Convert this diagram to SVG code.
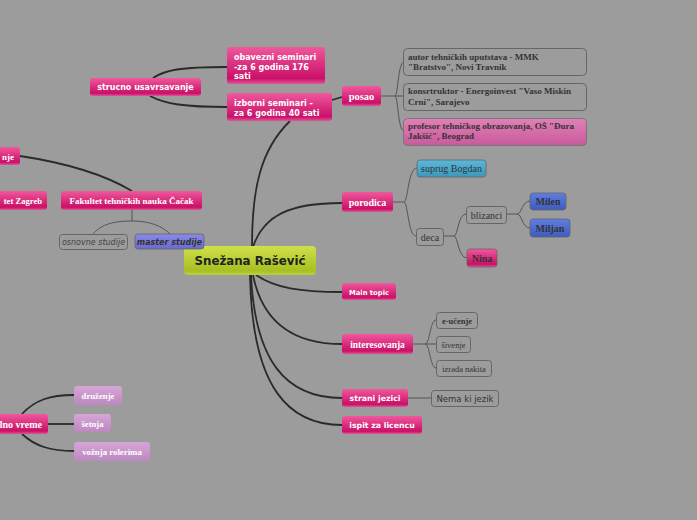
<svg xmlns="http://www.w3.org/2000/svg" width="697" height="520" viewBox="0 0 697 520">
<defs>
<linearGradient id="gPink" x1="0" y1="0" x2="0" y2="1"><stop offset="0" stop-color="#f0589c"/><stop offset="0.85" stop-color="#c91068"/><stop offset="1" stop-color="#e0579a"/></linearGradient>
<linearGradient id="gLime" x1="0" y1="0" x2="0" y2="1"><stop offset="0" stop-color="#d0e04a"/><stop offset="0.85" stop-color="#a8c022"/><stop offset="1" stop-color="#bcd040"/></linearGradient>
<linearGradient id="gBlue" x1="0" y1="0" x2="0" y2="1"><stop offset="0" stop-color="#5f7ee0"/><stop offset="1" stop-color="#3e5cc0"/></linearGradient>
<linearGradient id="gTeal" x1="0" y1="0" x2="0" y2="1"><stop offset="0" stop-color="#5cb8d8"/><stop offset="1" stop-color="#3a98bc"/></linearGradient>
<linearGradient id="gPurple" x1="0" y1="0" x2="0" y2="1"><stop offset="0" stop-color="#8a8ae6"/><stop offset="1" stop-color="#6a6ad0"/></linearGradient>
<linearGradient id="gLilac" x1="0" y1="0" x2="0" y2="1"><stop offset="0" stop-color="#d6a6d6"/><stop offset="1" stop-color="#bc88c0"/></linearGradient>
<linearGradient id="gRose" x1="0" y1="0" x2="0" y2="1"><stop offset="0" stop-color="#e080b6"/><stop offset="1" stop-color="#c85a9c"/></linearGradient>
</defs>
<style>
.pink{fill:url(#gPink);}
.gray{fill:#9c9c9c;stroke:#666;stroke-width:1;}
.sw{font-family:"DejaVu Sans",Verdana,sans-serif;font-weight:bold;fill:#fff;font-size:8px;}
.rw{font-family:"Liberation Serif","Times New Roman",serif;font-weight:bold;fill:#fff;font-size:10px;}
.rd{font-family:"Liberation Serif","Times New Roman",serif;fill:#333;font-size:10px;}
.b{font-weight:bold;}
.main{stroke:#2a2a2a;stroke-width:1.8;fill:none;}
.sub{stroke:#555;stroke-width:1;fill:none;}
</style>
<rect width="697" height="520" fill="#9c9c9c"/>
<g id="connectors">
<path class="main" d="M252,246 C252,190 260,150 290,121"/>
<path class="main" d="M252,250 C262,215 290,203 342,203"/>
<path class="main" d="M256,275 C275,288 300,292 342,292"/>
<path class="main" d="M253,275 C262,320 290,344 342,344"/>
<path class="main" d="M251,275 C255,360 285,398 342,398"/>
<path class="main" d="M250,275 C252,390 290,425 342,425"/>
<path class="main" d="M332,100 L342,97"/>
<path class="main" d="M153,78 C165,70 180,67 227,67"/>
<path class="main" d="M150,96 C165,104 185,107 227,107"/>
<path class="main" d="M20,156 C60,162 100,172 132,191"/>
<path class="main" d="M22,414 C35,400 50,395 74,395"/>
<path class="main" d="M48,424 L74,424"/>
<path class="main" d="M22,434 C35,446 50,451 74,451"/>
<path class="sub" d="M381,96 L395,96 C398,96 398,62 404,62 M395,96 L403,96 M395,96 C398,96 398,131 404,131"/>
<path class="sub" d="M132,210 L132,221 C110,221 100,226 93,234 M132,221 C150,221 162,226 170,234"/>
<path class="sub" d="M393,202 L404,202 C408,202 408,168 417,168 M404,202 C408,202 408,236 416,236"/>
<path class="sub" d="M443,236 L454,236 C458,236 458,214 466,214 M454,236 C458,236 458,258 467,258"/>
<path class="sub" d="M506,214 L517,214 C522,214 522,201 530,201 M517,214 C522,214 522,228 530,228"/>
<path class="sub" d="M413,344 L425,344 C430,344 430,320 436,320 M425,344 L436,344 M425,344 C430,344 430,368 436,368"/>
<path class="sub" d="M408,398 L431,398"/>
</g>
<g id="center"><rect x="184" y="246" width="132" height="29" rx="4" fill="url(#gLime)"/><text x="250" y="265" text-anchor="middle" font-family="DejaVu Sans,Verdana,sans-serif" font-weight="bold" font-size="11.8" fill="#222">Snežana Rašević</text></g>
<g id="strucno"><rect x="90" y="78" width="111" height="18" rx="3" class="pink"/><text x="145.5" y="90" text-anchor="middle" class="sw">strucno usavrsavanje</text></g>
<g id="obavezni"><rect x="227" y="47" width="98" height="37" rx="3" class="pink"/><text class="sw"><tspan x="234" y="59.5">obavezni seminari</tspan><tspan x="234" y="69.5">-za 6 godina 176</tspan><tspan x="234" y="79">sati</tspan></text></g>
<g id="izborni"><rect x="227" y="93" width="105" height="28" rx="3" class="pink"/><text class="sw"><tspan x="234" y="105.5">izborni seminari -</tspan><tspan x="234" y="116">za 6 godina 40 sati</tspan></text></g>
<g id="posao"><rect x="342" y="86" width="39" height="20" rx="3" class="pink"/><text x="361.5" y="99.5" text-anchor="middle" class="rw" style="font-size:10.5px">posao</text></g>
<g id="autor"><rect x="403.5" y="48.5" width="183" height="27" rx="4" class="gray"/><text class="rd b" style="font-size:9px"><tspan x="408" y="60">autor tehničkih uputstava - MMK</tspan><tspan x="408" y="70">"Bratstvo", Novi Travnik</tspan></text></g>
<g id="konstruktor"><rect x="403.5" y="83.5" width="183" height="27" rx="4" class="gray"/><text class="rd b" style="font-size:9px"><tspan x="408" y="94">konsrtruktor - Energoinvest "Vaso Miskin</tspan><tspan x="408" y="105">Crni", Sarajevo</tspan></text></g>
<g id="profesor"><rect x="403.5" y="118.5" width="183" height="27" rx="4" fill="url(#gRose)" stroke="#777" stroke-width="1"/><text class="rd b" style="font-size:9px"><tspan x="408" y="129">profesor tehničkog obrazovanja, OŠ "Đura</tspan><tspan x="408" y="139">Jakšić", Beograd</tspan></text></g>
<g id="porodica"><rect x="342" y="192" width="51" height="20" rx="3" class="pink"/><text x="367.5" y="206" text-anchor="middle" class="rw">porodica</text></g>
<g id="suprug"><rect x="417" y="160" width="69" height="17" rx="3" fill="url(#gTeal)" stroke="#666" stroke-width="0.8"/><text x="451.5" y="172" text-anchor="middle" class="rd">suprug Bogdan</text></g>
<g id="deca"><rect x="416.5" y="228.5" width="27" height="17" rx="3" class="gray"/><text x="430" y="240.5" text-anchor="middle" class="rd">deca</text></g>
<g id="blizanci"><rect x="466.5" y="206.5" width="40" height="17" rx="3" class="gray"/><text x="486.5" y="218.5" text-anchor="middle" class="rd">blizanci</text></g>
<g id="milen"><rect x="530" y="193" width="36" height="17" rx="3" fill="url(#gBlue)" stroke="#666" stroke-width="0.8"/><text x="548" y="205" text-anchor="middle" class="rd b">Milen</text></g>
<g id="miljan"><rect x="530" y="219" width="40" height="18" rx="3" fill="url(#gBlue)" stroke="#666" stroke-width="0.8"/><text x="550" y="232" text-anchor="middle" class="rd b">Miljan</text></g>
<g id="nina"><rect x="467" y="249" width="30" height="18" rx="3" class="pink" stroke="#666" stroke-width="0.8"/><text x="482" y="262" text-anchor="middle" class="rd b">Nina</text></g>
<g id="maintopic"><rect x="342" y="283" width="54" height="17" rx="3" class="pink"/><text x="369" y="294.5" text-anchor="middle" class="sw" style="font-size:6.8px">Main topic</text></g>
<g id="interesovanja"><rect x="342" y="334" width="71" height="20" rx="3" class="pink"/><text x="377.5" y="348" text-anchor="middle" class="rw" style="font-size:9.5px">interesovanja</text></g>
<g id="eucenje"><rect x="436.5" y="312.5" width="41" height="16" rx="3" class="gray"/><text x="457" y="324" text-anchor="middle" class="rd b" style="font-size:8.5px">e-učenje</text></g>
<g id="sivenje"><rect x="436.5" y="336.5" width="34" height="16" rx="3" class="gray"/><text x="453.5" y="348" text-anchor="middle" class="rd" style="font-size:8.5px">šivenje</text></g>
<g id="izrada"><rect x="436.5" y="360.5" width="55" height="16" rx="3" class="gray"/><text x="464" y="372" text-anchor="middle" class="rd" style="font-size:8.5px">izrada nakita</text></g>
<g id="strani"><rect x="342" y="389" width="66" height="18" rx="3" class="pink"/><text x="375" y="401" text-anchor="middle" class="sw" style="font-size:7.8px">strani jezici</text></g>
<g id="nema"><rect x="431.5" y="390.5" width="67" height="16" rx="3" class="gray"/><text x="465" y="402" text-anchor="middle" font-family="DejaVu Sans,Verdana,sans-serif" font-size="8.5" fill="#333">Nema ki jezik</text></g>
<g id="ispit"><rect x="342" y="416" width="80" height="18" rx="3" class="pink"/><text x="382" y="428" text-anchor="middle" class="sw" style="font-size:7.8px">ispit za licencu</text></g>
<g id="obrazovanje"><rect x="-40" y="147" width="60" height="18" rx="3" class="pink"/><text x="14" y="159.5" text-anchor="end" class="rw" style="font-size:9px">nje</text></g>
<g id="zagreb"><rect x="-60" y="191" width="107" height="19" rx="3" class="pink"/><text x="42" y="204" text-anchor="end" class="rw" style="font-size:8.6px">tet Zagreb</text></g>
<g id="cacak"><rect x="61" y="191" width="141" height="19" rx="3" class="pink"/><text x="131.5" y="204" text-anchor="middle" class="rw" style="font-size:9px">Fakultet tehničkih nauka  Čačak</text></g>
<g id="osnovne"><rect x="59.5" y="234.5" width="68" height="15" rx="3" class="gray"/><text x="93.5" y="245" text-anchor="middle" font-family="DejaVu Sans,Verdana,sans-serif" font-style="italic" font-size="8" fill="#444">osnovne studije</text></g>
<g id="master"><rect x="135" y="234" width="69" height="15" rx="3" fill="url(#gPurple)" stroke="#666" stroke-width="0.8"/><text x="169.5" y="245" text-anchor="middle" font-family="DejaVu Sans,Verdana,sans-serif" font-style="italic" font-weight="bold" font-size="8" fill="#333">master studije</text></g>
<g id="slobodno"><rect x="-30" y="414" width="78" height="20" rx="3" class="pink"/><text x="42" y="428" text-anchor="end" class="rw">lno vreme</text></g>
<g id="druzenje"><rect x="74" y="386" width="48" height="19" rx="3" fill="url(#gLilac)"/><text x="98" y="399" text-anchor="middle" class="rw" style="font-size:8.7px">druženje</text></g>
<g id="setnja"><rect x="74" y="414" width="37" height="18" rx="3" fill="url(#gLilac)"/><text x="92.5" y="427" text-anchor="middle" class="rw" style="font-size:8.7px">šetnja</text></g>
<g id="voznja"><rect x="74" y="442" width="76" height="19" rx="3" fill="url(#gLilac)"/><text x="112" y="455" text-anchor="middle" class="rw" style="font-size:8.8px">vožnja rolerima</text></g>
</svg>
